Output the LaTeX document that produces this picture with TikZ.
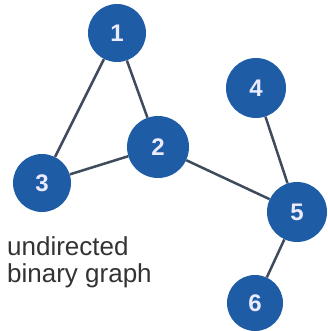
\documentclass[tikz,border=0pt]{standalone}
\usepackage{fontspec}
\setmainfont{Liberation Sans}
\definecolor{nodeblue}{HTML}{1F5CA6}
\definecolor{edgegray}{HTML}{3D4B5C}
\begin{document}
\begin{tikzpicture}[x=1pt,y=-1pt,
  vert/.style={circle,fill=nodeblue,minimum size=#1,inner sep=0pt,text=white!92!blue,font=\bfseries\fontsize{24}{24}\selectfont},
  vert/.default=58pt,
  lbl/.style={anchor=base west,inner sep=0pt,font=\fontsize{26}{27}\selectfont,text=black!80},
  edge/.style={draw=edgegray,line width=2.5pt}]
\useasboundingbox[fill=white] (0,0) rectangle (327,331);
\node[vert] (n1) at (117,33) {1};
\node[vert=62pt] (n2) at (158,147) {2};
\node[vert] (n3) at (42,183) {3};
\node[vert=60pt] (n4) at (256,88) {4};
\node[vert=60pt] (n5) at (297,212) {5};
\node[vert=56pt] (n6) at (255,303) {6};
\draw[edge] (n1) -- (n2);
\draw[edge] (n1) -- (n3);
\draw[edge] (n2) -- (n3);
\draw[edge] (n2) -- (n5);
\draw[edge] (n4) -- (n5);
\draw[edge] (n5) -- (n6);
\node[lbl] (l1) at (7,255) {undirected};
\node[lbl] (l2) at (7,282) {binary graph};
\end{tikzpicture}
\end{document}
